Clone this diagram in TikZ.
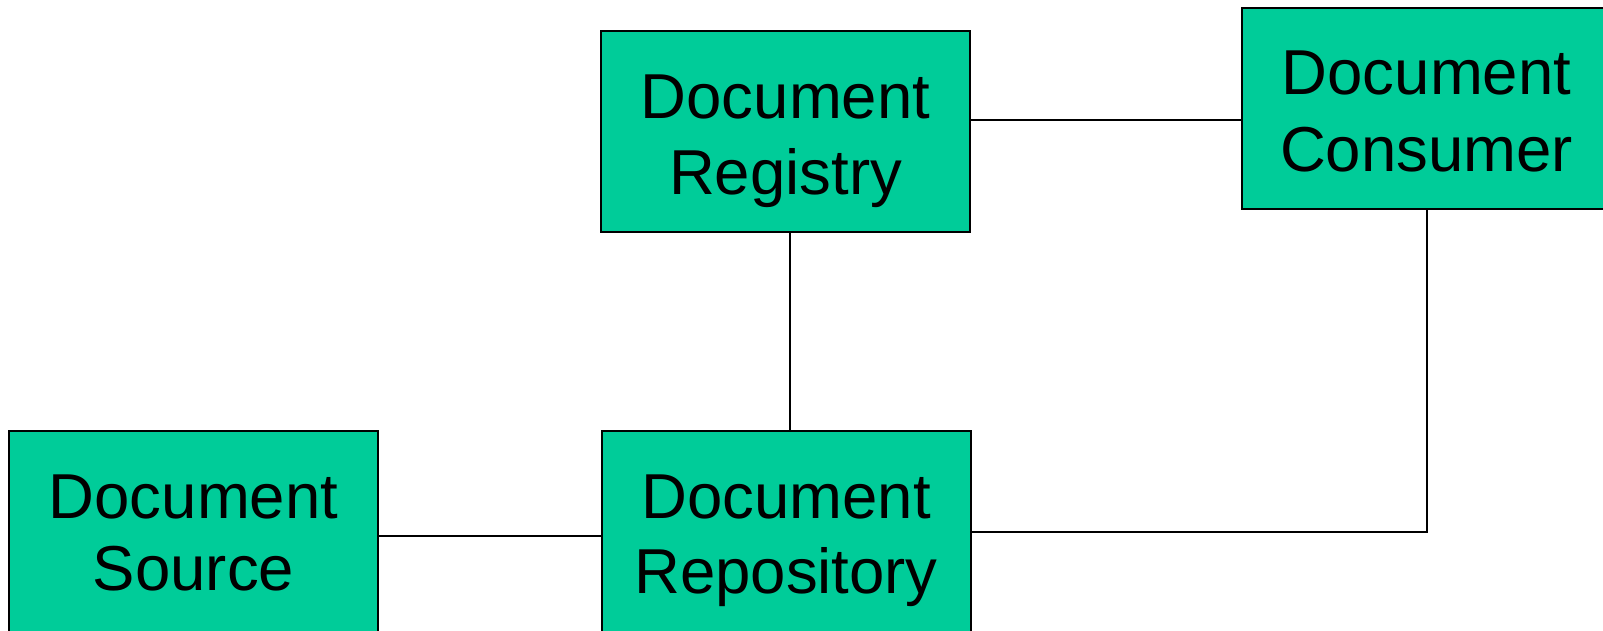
\documentclass[tikz,border=0pt]{standalone}
\usepackage{fontspec}
\setmainfont{Liberation Sans}
\definecolor{boxgreen}{RGB}{0,204,153}
\begin{document}
\begin{tikzpicture}[x=1pt,y=-1pt,
  block/.style={draw=black, line width=2pt, fill=boxgreen, inner sep=0pt,
    minimum width=369pt, minimum height=201pt},
  lbl/.style={anchor=base, inner sep=0pt, font=\fontsize{63.5}{75}\selectfont},
  link/.style={draw=black, line width=2pt}]
\useasboundingbox (0,0) rectangle (1603,630);

% boxes
\node[block] (reg)  at (785.5,131.5) {};
\node[block] (cons) at (1426.5,108.5) {};
\node[block] (src)  at (193.5,531.5) {};
\node[block] (repo) at (786,531.5) {};

% labels, two lines per box
\node[lbl] (regA)  at ([yshift=-88pt]reg.north)  {Document};
\node[lbl] (regB)  at ([yshift=-164pt]reg.north) {Registry};
\node[lbl] (consA) at ([yshift=-87pt]cons.north) {Document};
\node[lbl] (consB) at ([yshift=-164pt]cons.north) {Consumer};
\node[lbl] (srcA)  at ([yshift=-88pt]src.north)  {Document};
\node[lbl] (srcB)  at ([yshift=-160pt]src.north) {Source};
\node[lbl] (repoA) at ([yshift=-88pt]repo.north) {Document};
\node[lbl] (repoB) at ([yshift=-163pt]repo.north) {Repository};

% connectors
\draw[link] (reg.east |- 0,120) -- (cons.west |- 0,120);
\draw[link] (reg.south -| 790,0) -- (repo.north -| 790,0);
\draw[link] (src.east |- 0,536) -- (repo.west |- 0,536);
\draw[link] (repo.east |- 0,532) -| (cons.south);
\end{tikzpicture}
\end{document}
